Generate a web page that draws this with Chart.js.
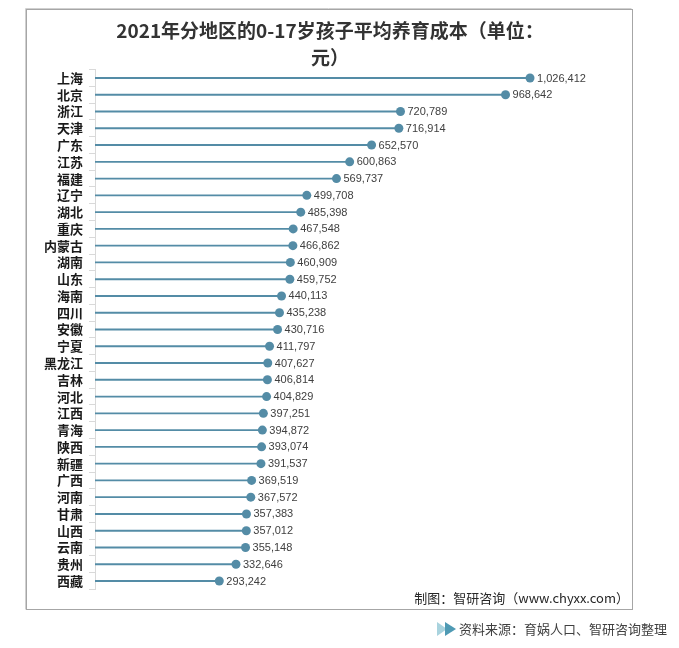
<!DOCTYPE html>
<html>
<head>
<meta charset="utf-8">
<style>
  html, body { margin: 0; padding: 0; background: #fff; }
  #wrap { position: relative; width: 679px; height: 648px; }
  canvas { display: block; }
</style>
<script src="https://cdn.jsdelivr.net/npm/chart.js@4.4.1/dist/chart.umd.min.js"></script>
</head>
<body>
<div id="wrap"><canvas id="myChart" width="679" height="648"></canvas></div>
<script>
const regions = ['上海', '北京', '浙江', '天津', '广东', '江苏', '福建', '辽宁', '湖北', '重庆',
    '内蒙古', '湖南', '山东', '海南', '四川', '安徽', '宁夏', '黑龙江', '吉林', '河北',
    '江西', '青海', '陕西', '新疆', '广西', '河南', '甘肃', '山西', '云南', '贵州', '西藏'];
const costs = [1026412, 968642, 720789, 716914, 652570, 600863, 569737, 499708, 485398, 467548,
    466862, 460909, 459752, 440113, 435238, 430716, 411797, 407627, 406814, 404829,
    397251, 394872, 393074, 391537, 369519, 367572, 357383, 357012, 355148, 332646, 293242];
const titleLines = ['2021年分地区的0-17岁孩子平均养育成本（单位：', '元）'];
const credit = '制图：智研咨询（www.chyxx.com）';
const source = '资料来源：育娲人口、智研咨询整理';

const ctx = document.getElementById('myChart');
const mainColor = 'rgb(84, 140, 166)';
const cjk = '"Noto Sans CJK SC", "Noto Sans", sans-serif';

// cadre, titre, libellés de valeurs et sources
const decor = {
    id: 'decor',
    afterDatasetsDraw(chart) {
        const c = chart.ctx;
        c.save();
        // valeurs à droite des points
        const meta = chart.getDatasetMeta(1);
        c.font = '11px "Liberation Sans", Arial, sans-serif';
        c.fillStyle = '#404040';
        c.textAlign = 'left';
        c.textBaseline = 'middle';
        meta.data.forEach((pt, i) => {
            c.fillText(costs[i].toLocaleString('en-US'), pt.x + 7, pt.y + 0.5);
        });
        c.restore();
    },
    beforeDraw(chart) {
        const c = chart.ctx;
        c.save();
        c.fillStyle = '#fff';
        c.fillRect(0, 0, chart.width, chart.height);
        c.strokeStyle = '#a6a6a6';
        c.lineWidth = 1;
        c.strokeRect(26.5, 9.5, 606, 600);
        c.strokeStyle = '#d0d0d0';
        c.beginPath();
        c.moveTo(25.5, 8.5); c.lineTo(631.5, 8.5);
        c.moveTo(25.5, 8.5); c.lineTo(25.5, 609.5);
        c.stroke();

        c.fillStyle = '#333333';
        c.textAlign = 'center';
        c.textBaseline = 'middle';
        c.font = 'bold 19px ' + cjk;
        c.fillText(titleLines[0], 330, 31);
        c.fillText(titleLines[1], 330, 58);

        c.textAlign = 'right';
        c.font = '13px ' + cjk;
        c.fillStyle = '#262626';
        c.fillText(credit, 629, 598);

        c.textAlign = 'left';
        c.font = '13px ' + cjk;
        c.fillStyle = '#404040';
        c.fillText(source, 459, 629);

        c.fillStyle = '#a9d3de';
        c.beginPath();
        c.moveTo(437, 622); c.lineTo(447, 629); c.lineTo(437, 636); c.closePath();
        c.fill();
        c.fillStyle = '#4f9ab4';
        c.beginPath();
        c.moveTo(445, 622); c.lineTo(456, 629); c.lineTo(445, 636); c.closePath();
        c.fill();
        c.restore();
    }
};

new Chart(ctx, {
    type: 'bar',
    data: {
        labels: regions,
        datasets: [{
            label: 'tige',
            data: costs,
            backgroundColor: mainColor,
            barThickness: 1.2,
            order: 2
        }, {
            type: 'line',
            label: 'point',
            data: costs,
            showLine: false,
            pointRadius: 4.5,
            pointBackgroundColor: mainColor,
            pointBorderColor: mainColor,
            pointBorderWidth: 0,
            order: 1
        }]
    },
    options: {
        indexAxis: 'y',
        responsive: false,
        animation: false,
        layout: {
            padding: { left: 0, right: 75.4, top: 69.6, bottom: 58.6 }
        },
        scales: {
            x: {
                display: false,
                min: 0,
                max: 1200000
            },
            y: {
                afterFit: scale => { scale.width = 95; },
                grid: {
                    drawOnChartArea: false,
                    drawTicks: true,
                    tickLength: 6,
                    color: '#d9d9d9',
                    offset: true
                },
                border: { display: true, color: '#d9d9d9' },
                ticks: {
                    padding: 6,
                    color: '#1a1a1a',
                    autoSkip: false,
                    font: { family: cjk, size: 13, weight: 'bold' }
                }
            }
        },
        plugins: {
            legend: { display: false },
            tooltip: { enabled: false }
        }
    },
    plugins: [decor]
});
</script>
</body>
</html>
